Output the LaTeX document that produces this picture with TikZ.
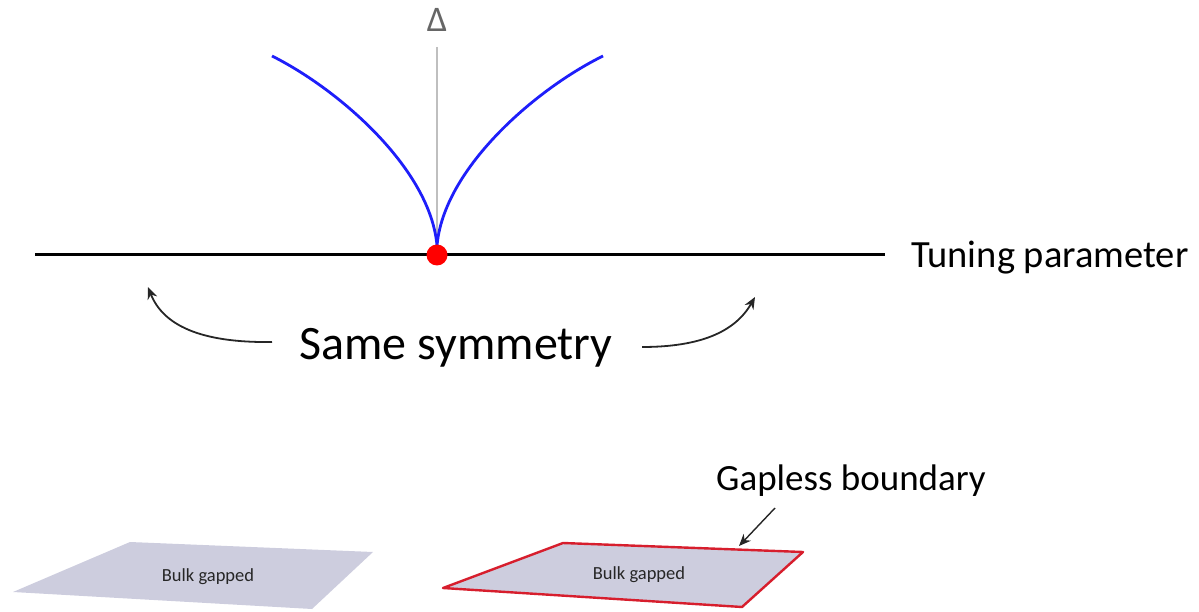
\documentclass[tikz,border=0pt]{standalone}
\usepackage{fontspec}
\setmainfont{Carlito}
\usetikzlibrary{arrows.meta}
\definecolor{slab}{RGB}{205,205,222}
\definecolor{edgered}{RGB}{215,30,45}
\definecolor{curveblue}{RGB}{30,30,250}
\tikzset{
  axisline/.style={line width=3pt, black},
  gapcurve/.style={line width=2.8pt, curveblue},
  bendarrow/.style={line width=1.8pt, black!85, -{Stealth[length=12pt,width=10pt]}},
  ptrarrow/.style={line width=1.4pt, black!85, -{Stealth[length=12pt,width=10pt]}},
  bigtext/.style={inner sep=0pt, font=\fontsize{37}{44}\selectfont},
  smalltext/.style={inner sep=0pt, font=\fontsize{18.5}{22}\selectfont, black!85},
}
\begin{document}
\begin{tikzpicture}[x=1pt,y=-1pt]
\useasboundingbox (0,0) rectangle (1199,612);
% axis
\coordinate (axL) at (35,255);
\coordinate (axR) at (885,255);
\coordinate (crit) at (437,255);
\coordinate (cusp) at (437,246);
\coordinate (gtop) at (437,47);
\draw[axisline] (axL) -- (axR);
\draw[line width=1.4pt, black!25] (gtop) -- (cusp);
\node[inner sep=0pt, text=black!60, font=\fontsize{36}{40}\selectfont] (delta) at (437,20) {Δ};
% gap curves
\coordinate (cl) at (272,56);
\coordinate (cr) at (603,56);
\draw[gapcurve] (cl) .. controls (340,90) and (431,170) .. (cusp) .. controls (443,170) and (534,90) .. (cr);
\fill[red] (crit) circle (10.5);
\node[bigtext, anchor=west, font=\fontsize{38.5}{44}\selectfont] (tune) at (911,258) {Tuning parameter};
% same symmetry
\node[bigtext, font=\fontsize{48}{56}\selectfont] (same) at (456,348) {Same symmetry};
\coordinate (la) at (272,342);
\coordinate (lt) at (148,287);
\coordinate (ra) at (642,347);
\coordinate (rt) at (755,297);
\draw[bendarrow] (la) .. controls (200,343) and (163,325) .. (lt);
\draw[bendarrow] (ra) .. controls (700,347) and (735,332) .. (rt);
% slabs
\fill[slab] (130,542) -- (373,552) -- (312,609) -- (13,592) -- cycle;
\node[smalltext] (bulkA) at (208,577) {Bulk gapped};
\fill[slab] (563,543) -- (803,552) -- (742,607) -- (443,588) -- cycle;
\draw[edgered, line width=2.4pt, line join=round] (563,543) -- (803,552) -- (742,607) -- (443,588) -- cycle;
\node[smalltext] (bulkB) at (639,575) {Bulk gapped};
\node[bigtext] (gapless) at (851,481) {Gapless boundary};
\coordinate (ps) at (775,508);
\coordinate (pe) at (739,546);
\draw[ptrarrow] (ps) -- (pe);
\end{tikzpicture}
\end{document}
